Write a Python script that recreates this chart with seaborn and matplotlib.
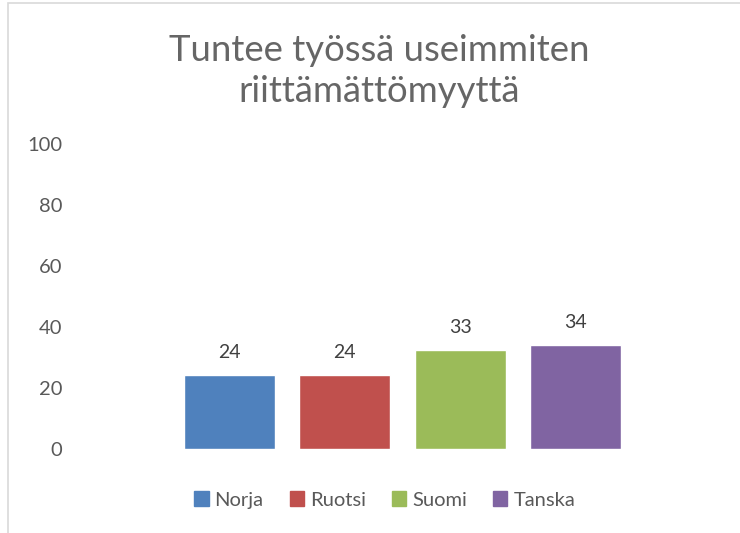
import pandas as pd
import seaborn as sns
import matplotlib.pyplot as plt
from matplotlib.patches import Rectangle

# Data
maat = ['Norja', 'Ruotsi', 'Suomi', 'Tanska']
osuus = [24.2, 24.4, 32.6, 34.1]
varit = ['#4f81bd', '#c0504d', '#9bbb59', '#8064a2']
y_ticks = [0, 20, 40, 60, 80, 100]

dados = pd.DataFrame({'Maa': maat, 'Osuus': osuus})

sns.set_style('white')
plt.rcParams['font.family'] = ['Lato', 'DejaVu Sans']

fig = plt.figure(figsize=(7.4, 5.33), dpi=100)
ax = fig.add_axes([0.2324, 0.1576, 0.623, 0.572])

sns.barplot(data=dados, x='Maa', y='Osuus', hue='Maa', palette=varit,
            width=0.79, saturation=1, legend=False, ax=ax)

for cont in ax.containers:
    ax.bar_label(cont, fmt='%.0f', padding=10, fontsize=14, color='#404040')

ax.set_ylim(0, 100)
ax.set_xlim(-0.5, 3.5)
ax.set_yticks(y_ticks)
ax.set_yticklabels([str(t) for t in y_ticks], fontsize=14.5, color='#595959')
ax.tick_params(axis='y', length=0, pad=79)
ax.set_xticks([])
ax.set_xlabel('')
ax.set_ylabel('')
sns.despine(ax=ax, left=True, bottom=True)

# Title
fig.text(0.512, 0.866, 'Tuntee työssä useimmiten\nriittämättömyyttä', ha='center', va='center',
         fontsize=26.3, color='#666666', linespacing=1.3)

# Legend
handles = [Rectangle((0, 0), 1, 1, color=c) for c in varit]
fig.legend(handles, maat, loc='center', bbox_to_anchor=(0.52, 0.062), ncol=4,
           frameon=False, fontsize=14.5, labelcolor='#595959', handlelength=0.7,
           handleheight=0.7, handletextpad=0.3, columnspacing=1.3)

# Chart area border (left and top edges visible)
fig.add_artist(Rectangle((8 / 740, -0.01), 1.0, 1 - 3 / 533 + 0.01, transform=fig.transFigure,
                         fill=False, edgecolor='#d9d9d9', linewidth=1.2))

fig.savefig('out.png', dpi=100)
